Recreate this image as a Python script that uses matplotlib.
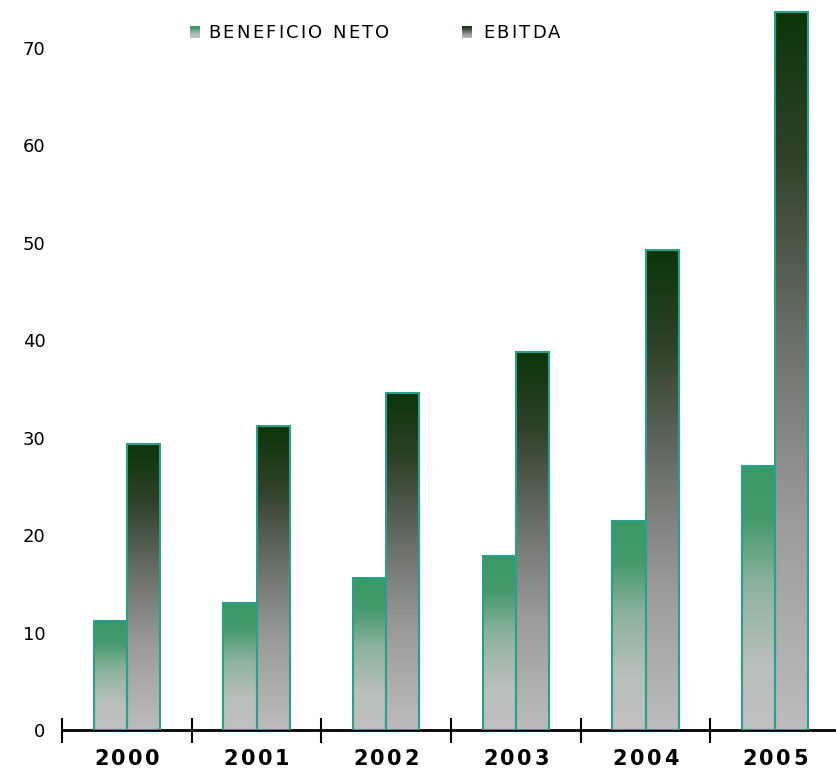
import numpy as np
import matplotlib
matplotlib.use("Agg")
import matplotlib.pyplot as plt
from matplotlib.colors import LinearSegmentedColormap

years = ["2000", "2001", "2002", "2003", "2004", "2005"]
beneficio = [11.2, 13.0, 15.6, 17.9, 21.5, 27.1]
ebitda = [29.4, 31.2, 34.6, 38.8, 49.3, 73.7]
series_names = ["BENEFICIO NETO", "EBITDA"]
yticks = [0, 10, 20, 30, 40, 50, 60, 70]

W, H = 836, 775
fig = plt.figure(figsize=(W / 100, H / 100), dpi=100)
ax = fig.add_axes([62 / W, 45 / H, 778 / W, 730.75 / H])

cmap_b = LinearSegmentedColormap.from_list(
    "b", [(0.0, "#c0c0c0"), (0.25, "#b9bfbb"), (0.55, "#8cb29c"), (0.8, "#44996c"), (1.0, "#389966")])
cmap_e = LinearSegmentedColormap.from_list(
    "e", [(0.0, "#bcbcbc"), (0.3, "#9a9b99"), (0.55, "#6a6e68"), (0.8, "#2f4129"), (1.0, "#0b3509")])
edge = "#2aa08c"

x = np.arange(len(years))
bw = 0.256
grad = np.linspace(0, 1, 256).reshape(-1, 1)

for vals, off, cmap in [(beneficio, -bw / 2, cmap_b), (ebitda, bw / 2, cmap_e)]:
    bars = ax.bar(x + off, vals, width=bw, facecolor="none", edgecolor=edge, linewidth=1.5, zorder=3)
    for b in bars:
        x0, y0 = b.get_x(), b.get_y()
        w, h = b.get_width(), b.get_height()
        im = ax.imshow(grad, cmap=cmap, origin="lower", aspect="auto",
                       extent=[x0, x0 + w, y0, y0 + h], zorder=2)
        im.set_clip_path(b)

ax.set_xlim(-0.5, len(years) - 0.5)
ax.set_ylim(0, 75)

for s in ["top", "right", "left"]:
    ax.spines[s].set_visible(False)
ax.spines["bottom"].set_linewidth(2)
ax.spines["bottom"].set_color("black")

ax.set_xticks(np.arange(-0.5, len(years), 1.0))
ax.set_xticklabels([])
ax.tick_params(axis="x", which="major", direction="inout", length=18, width=1.5, color="black")

ax.set_yticks(yticks)
ax.set_yticklabels([str(t) for t in yticks], fontsize=13)
ax.tick_params(axis="y", length=0, pad=12)

renderer = fig.canvas.get_renderer()


def text_width(s, **kw):
    t = fig.text(0, 0, "|" + s + "|", **kw)
    w = t.get_window_extent(renderer).width
    t.remove()
    t = fig.text(0, 0, "||", **kw)
    w0 = t.get_window_extent(renderer).width
    t.remove()
    return w - w0


def spaced_text(s, px, py, spacing, ha="left", **kw):
    """Draw text with extra letter spacing at pixel coords (px from left, py from top)."""
    offs = [text_width(s[:i], **kw) + spacing * i for i in range(len(s))]
    total = text_width(s, **kw) + spacing * (len(s) - 1)
    start = px - total / 2 if ha == "center" else px
    for ch, o in zip(s, offs):
        if ch != " ":
            fig.text((start + o) / W, 1 - py / H, ch, ha="left", va="center", **kw)


# x category labels
for i, yr in enumerate(years):
    cx = ax.transData.transform((x[i], 0))[0]
    spaced_text(yr, cx, 759, 2.6, ha="center", fontsize=15, fontweight="bold")

# legend
legend_items = [(series_names[0], cmap_b, 190, 208), (series_names[1], cmap_e, 462, 483)]
for name, cmap, sx, tx in legend_items:
    lax = fig.add_axes([sx / W, 1 - 38 / H, 10 / W, 12 / H])
    lax.imshow(grad, cmap=cmap, origin="lower", aspect="auto")
    lax.axis("off")
    spaced_text(name, tx, 33, 2.3, fontsize=13)

fig.savefig("out.png", dpi=100)
